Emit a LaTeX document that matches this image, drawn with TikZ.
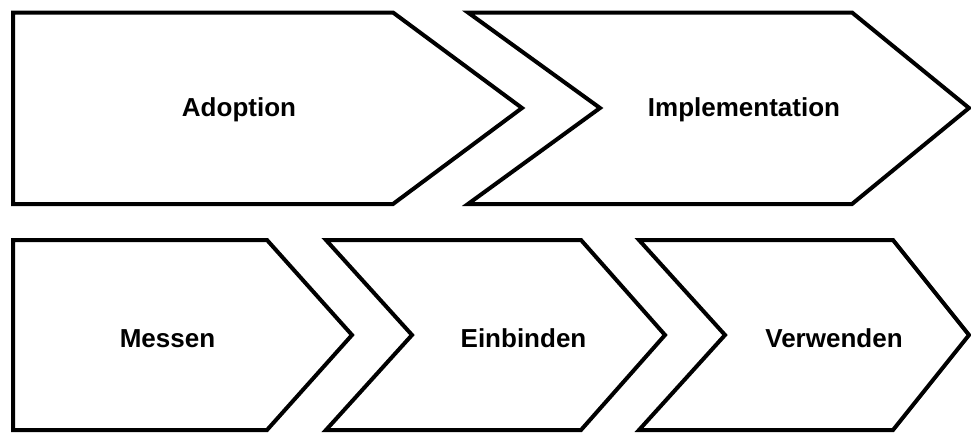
\documentclass[tikz,border=0pt]{standalone}
\usepackage{fontspec}
\setmainfont{Liberation Sans}
\begin{document}
\begin{tikzpicture}[x=1pt,y=-1pt,
  arrowbox/.style={draw=black,line width=4pt,fill=white,line join=miter},
  label/.style={anchor=base,inner sep=0pt,font=\fontsize{26}{30}\selectfont\bfseries}]
\useasboundingbox (0,0) rectangle (971,432);
% top row
\draw[arrowbox] (13,12.5) -- (393,12.5) -- (522,108) -- (393,204) -- (13,204) -- cycle;
\draw[arrowbox] (468,12.5) -- (852,12.5) -- (969,108) -- (852,204) -- (468,204) -- (600,108) -- cycle;
% bottom row
\draw[arrowbox] (13,240) -- (267,240) -- (352,335) -- (267,430) -- (13,430) -- cycle;
\draw[arrowbox] (326,240) -- (581,240) -- (665,335) -- (581,430) -- (326,430) -- (412,335) -- cycle;
\draw[arrowbox] (639,240) -- (893,240) -- (969,335) -- (893,430) -- (639,430) -- (725,335) -- cycle;
% labels
\node[label] (adoption) at (239,116) {Adoption};
\node[label] (implementation) at (744,116) {Implementation};
\node[label] (messen) at (167.5,347) {Messen};
\node[label] (einbinden) at (523.5,347) {Einbinden};
\node[label] (verwenden) at (834,347) {Verwenden};
\end{tikzpicture}
\end{document}
